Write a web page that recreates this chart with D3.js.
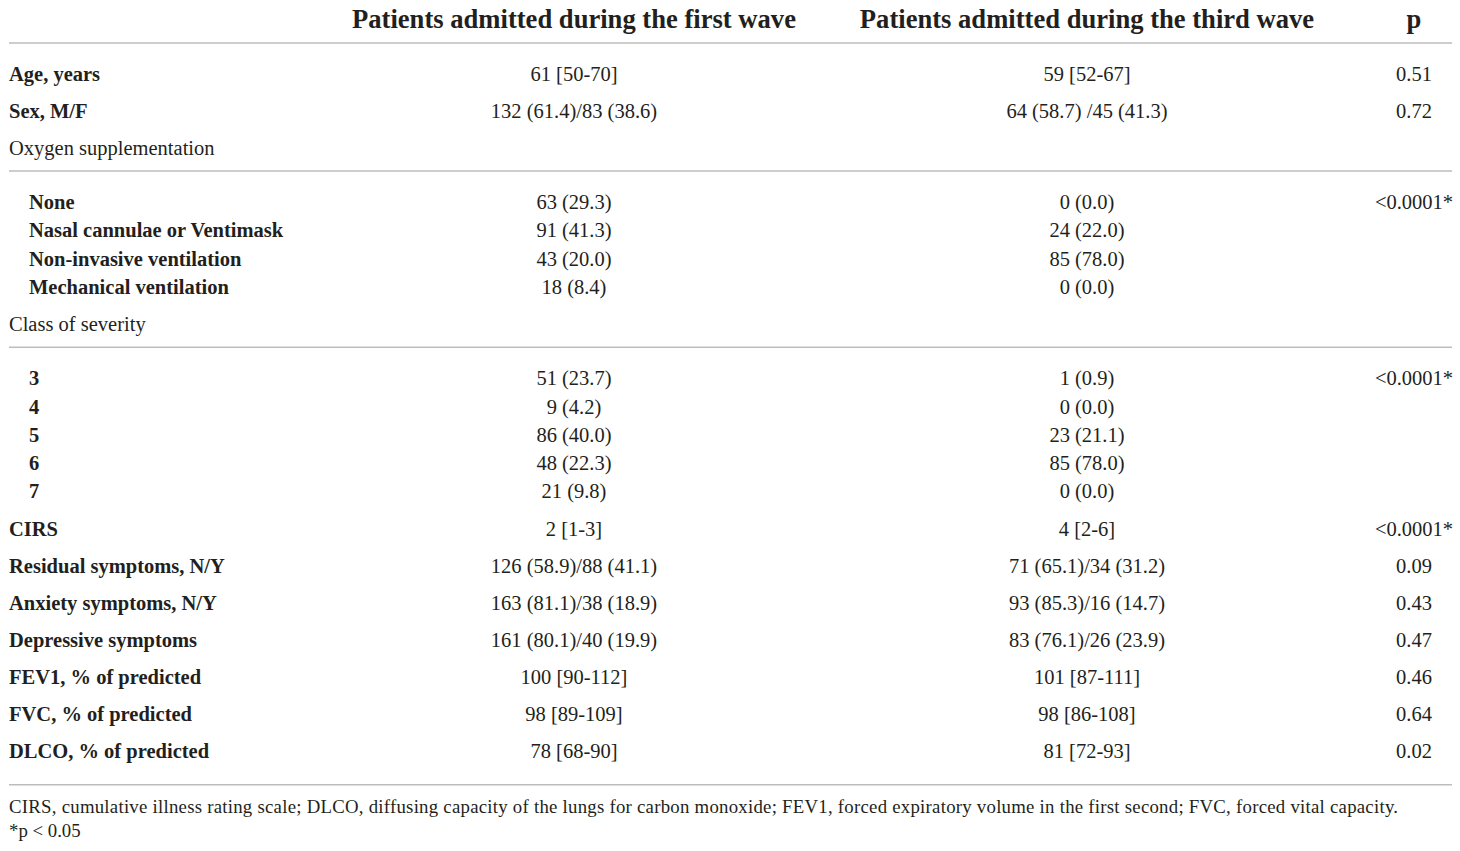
<!DOCTYPE html>
<html>
<head>
<meta charset="utf-8">
<script src="https://cdn.jsdelivr.net/npm/d3@7"></script>
<style>
  body { margin: 0; background: #fff; }
  svg text { font-family: "Liberation Serif", "DejaVu Serif", serif; fill: #231f20; }
  .hdr { font-weight: bold; font-size: 26.6px; }
  .cell { font-size: 20.5px; }
  .bold { font-weight: bold; }
  .note { font-size: 18.8px; }
  .rule { stroke: #bdbdbd; stroke-width: 1.5px; }
</style>
</head>
<body>
<div id="graf"></div>
<script>
// table content
const headers = ["", "Patients admitted during the first wave", "Patients admitted during the third wave", "p"];

const rowLabels = [
  "Age, years", "Sex, M/F", "Oxygen supplementation",
  "None", "Nasal cannulae or Ventimask", "Non-invasive ventilation", "Mechanical ventilation",
  "Class of severity",
  "3", "4", "5", "6", "7",
  "CIRS", "Residual symptoms, N/Y", "Anxiety symptoms, N/Y", "Depressive symptoms",
  "FEV1, % of predicted", "FVC, % of predicted", "DLCO, % of predicted"
];

// main = bold row, group = plain heading with rule below, sub = indented bold row
const rowKinds = [
  "main", "main", "group",
  "sub", "sub", "sub", "sub",
  "group",
  "sub", "sub", "sub", "sub", "sub",
  "main", "main", "main", "main", "main", "main", "main"
];

const firstWave = [
  "61 [50-70]", "132 (61.4)/83 (38.6)", "",
  "63 (29.3)", "91 (41.3)", "43 (20.0)", "18 (8.4)",
  "",
  "51 (23.7)", "9 (4.2)", "86 (40.0)", "48 (22.3)", "21 (9.8)",
  "2 [1-3]", "126 (58.9)/88 (41.1)", "163 (81.1)/38 (18.9)", "161 (80.1)/40 (19.9)",
  "100 [90-112]", "98 [89-109]", "78 [68-90]"
];

const thirdWave = [
  "59 [52-67]", "64 (58.7) /45 (41.3)", "",
  "0 (0.0)", "24 (22.0)", "85 (78.0)", "0 (0.0)",
  "",
  "1 (0.9)", "0 (0.0)", "23 (21.1)", "85 (78.0)", "0 (0.0)",
  "4 [2-6]", "71 (65.1)/34 (31.2)", "93 (85.3)/16 (14.7)", "83 (76.1)/26 (23.9)",
  "101 [87-111]", "98 [86-108]", "81 [72-93]"
];

const pValues = [
  "0.51", "0.72", "",
  "<0.0001*", "", "", "",
  "",
  "<0.0001*", "", "", "", "",
  "<0.0001*", "0.09", "0.43", "0.47",
  "0.46", "0.64", "0.02"
];

const footnotes = [
  "CIRS, cumulative illness rating scale; DLCO, diffusing capacity of the lungs for carbon monoxide; FEV1, forced expiratory volume in the first second; FVC, forced vital capacity.",
  "*p < 0.05"
];

// layout
const ancho_total = 1460;
const alto_total = 851;
const left = 9, right = 1452, indent = 20;
const colX = [left, 574, 1087, 1414];
const noteWidth = 1389;

const svg = d3.select("#graf")
  .append("svg")
  .attr("width", ancho_total)
  .attr("height", alto_total);

// row baselines
const rows = rowLabels.map((label, i) => ({
  label, kind: rowKinds[i], cells: [firstWave[i], thirdWave[i], pValues[i]]
}));
let yy = 81;
rows.forEach((r, i) => {
  if (i > 0) {
    const prev = rows[i - 1].kind;
    if (prev === "group") yy += 54;
    else if (prev === "sub" && r.kind === "sub") yy += 28.25;
    else if (prev === "sub") yy += 37.5;
    else yy += 37;
  }
  r.y = yy;
});

// header
svg.selectAll(".hdr")
  .data(headers.slice(1))
  .enter()
  .append("text")
  .attr("class", "hdr")
  .attr("x", (d, i) => colX[i + 1])
  .attr("y", 28)
  .attr("text-anchor", "middle")
  .text(d => d);

// rules
const rules = [43]
  .concat(rows.filter(r => r.kind === "group").map(r => r.y + 16))
  .concat([rows[rows.length - 1].y + 27]);

svg.selectAll(".rule")
  .data(rules)
  .enter()
  .append("line")
  .attr("class", "rule")
  .attr("x1", left)
  .attr("x2", right)
  .attr("y1", d => d)
  .attr("y2", d => d);

// body rows
const g = svg.selectAll(".row")
  .data(rows)
  .enter()
  .append("g")
  .attr("class", "row")
  .attr("transform", d => `translate(0, ${d.y})`);

g.append("text")
  .attr("class", d => "cell" + (d.kind === "group" ? "" : " bold"))
  .attr("x", d => d.kind === "sub" ? left + indent : left)
  .text(d => d.label);

g.selectAll(".val")
  .data(d => d.cells)
  .enter()
  .append("text")
  .attr("class", "cell val")
  .attr("x", (d, i) => colX[i + 1])
  .attr("text-anchor", "middle")
  .text(d => d);

// footnotes
const lastY = rows[rows.length - 1].y;
svg.selectAll(".note")
  .data(footnotes)
  .enter()
  .append("text")
  .attr("class", "note")
  .attr("x", left)
  .attr("y", (d, i) => lastY + 55 + i * 24)
  .attr("textLength", (d, i) => i === 0 ? noteWidth : null)
  .attr("lengthAdjust", "spacing")
  .text(d => d);
</script>
</body>
</html>
